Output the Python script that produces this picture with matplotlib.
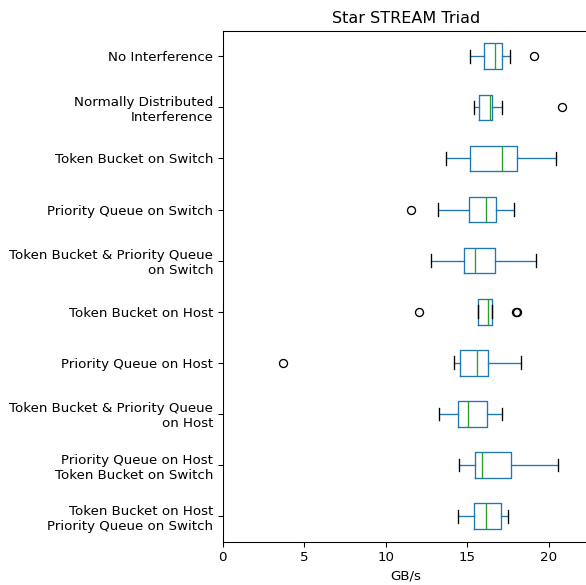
import matplotlib
matplotlib.use("Agg")
import matplotlib.pyplot as plt

labels = [
    "No Interference",
    "Normally Distributed\nInterference",
    "Token Bucket on Switch",
    "Priority Queue on Switch",
    "Token Bucket & Priority Queue\non Switch",
    "Token Bucket on Host",
    "Priority Queue on Host",
    "Token Bucket & Priority Queue\non Host",
    "Priority Queue on Host\nToken Bucket on Switch",
    "Token Bucket on Host\nPriority Queue on Switch",
]
whislo = [15.17, 15.42, 13.68, 13.21, 12.78, 15.66, 14.17, 13.29, 14.50, 14.44]
q1     = [16.05, 15.72, 15.15, 15.09, 14.82, 15.66, 14.58, 14.42, 15.46, 15.40]
med    = [16.72, 16.39, 17.12, 16.15, 15.48, 16.29, 15.58, 15.07, 15.89, 16.15]
q3     = [17.13, 16.54, 18.04, 16.75, 16.72, 16.54, 16.29, 16.23, 17.71, 17.06]
whishi = [17.61, 17.12, 20.47, 17.85, 19.24, 16.54, 18.28, 17.12, 20.55, 17.52]
fliers = [[19.08], [20.80], [], [11.55], [], [12.05, 18.00, 18.04], [3.68], [], [], []]

stats = []
for i, lab in enumerate(labels):
    stats.append(dict(label=lab, whislo=whislo[i], q1=q1[i], med=med[i],
                      q3=q3[i], whishi=whishi[i], fliers=fliers[i]))

DPI = 96
fig = plt.figure(figsize=(586 / DPI, 585 / DPI), dpi=DPI)
ax = fig.add_axes([222.7 / 586, 1 - 541.7 / 585, (589.5 - 222.7) / 586, (541.7 - 30.7) / 585])

n = len(labels)
positions = list(range(n, 0, -1))
ax.bxp(stats, positions=positions, widths=0.5, vert=False,
       boxprops=dict(color="#1f77b4"),
       whiskerprops=dict(color="#1f77b4"),
       medianprops=dict(color="#2ca02c"),
       capprops=dict(color="black"),
       flierprops=dict(marker="o", markerfacecolor="none", markeredgecolor="black"))

ax.set_yticks(positions)
ax.set_yticklabels(labels, fontsize=10)
ax.set_ylim(0.5, n + 0.5)
ax.set_xlim(0, 22.5)
ax.set_xticks([0, 5, 10, 15, 20])
ax.tick_params(labelsize=10)
ax.set_xlabel("GB/s", fontsize=10)
ax.set_title("Star STREAM Triad", fontsize=12)

fig.savefig("out.png", dpi=DPI)
